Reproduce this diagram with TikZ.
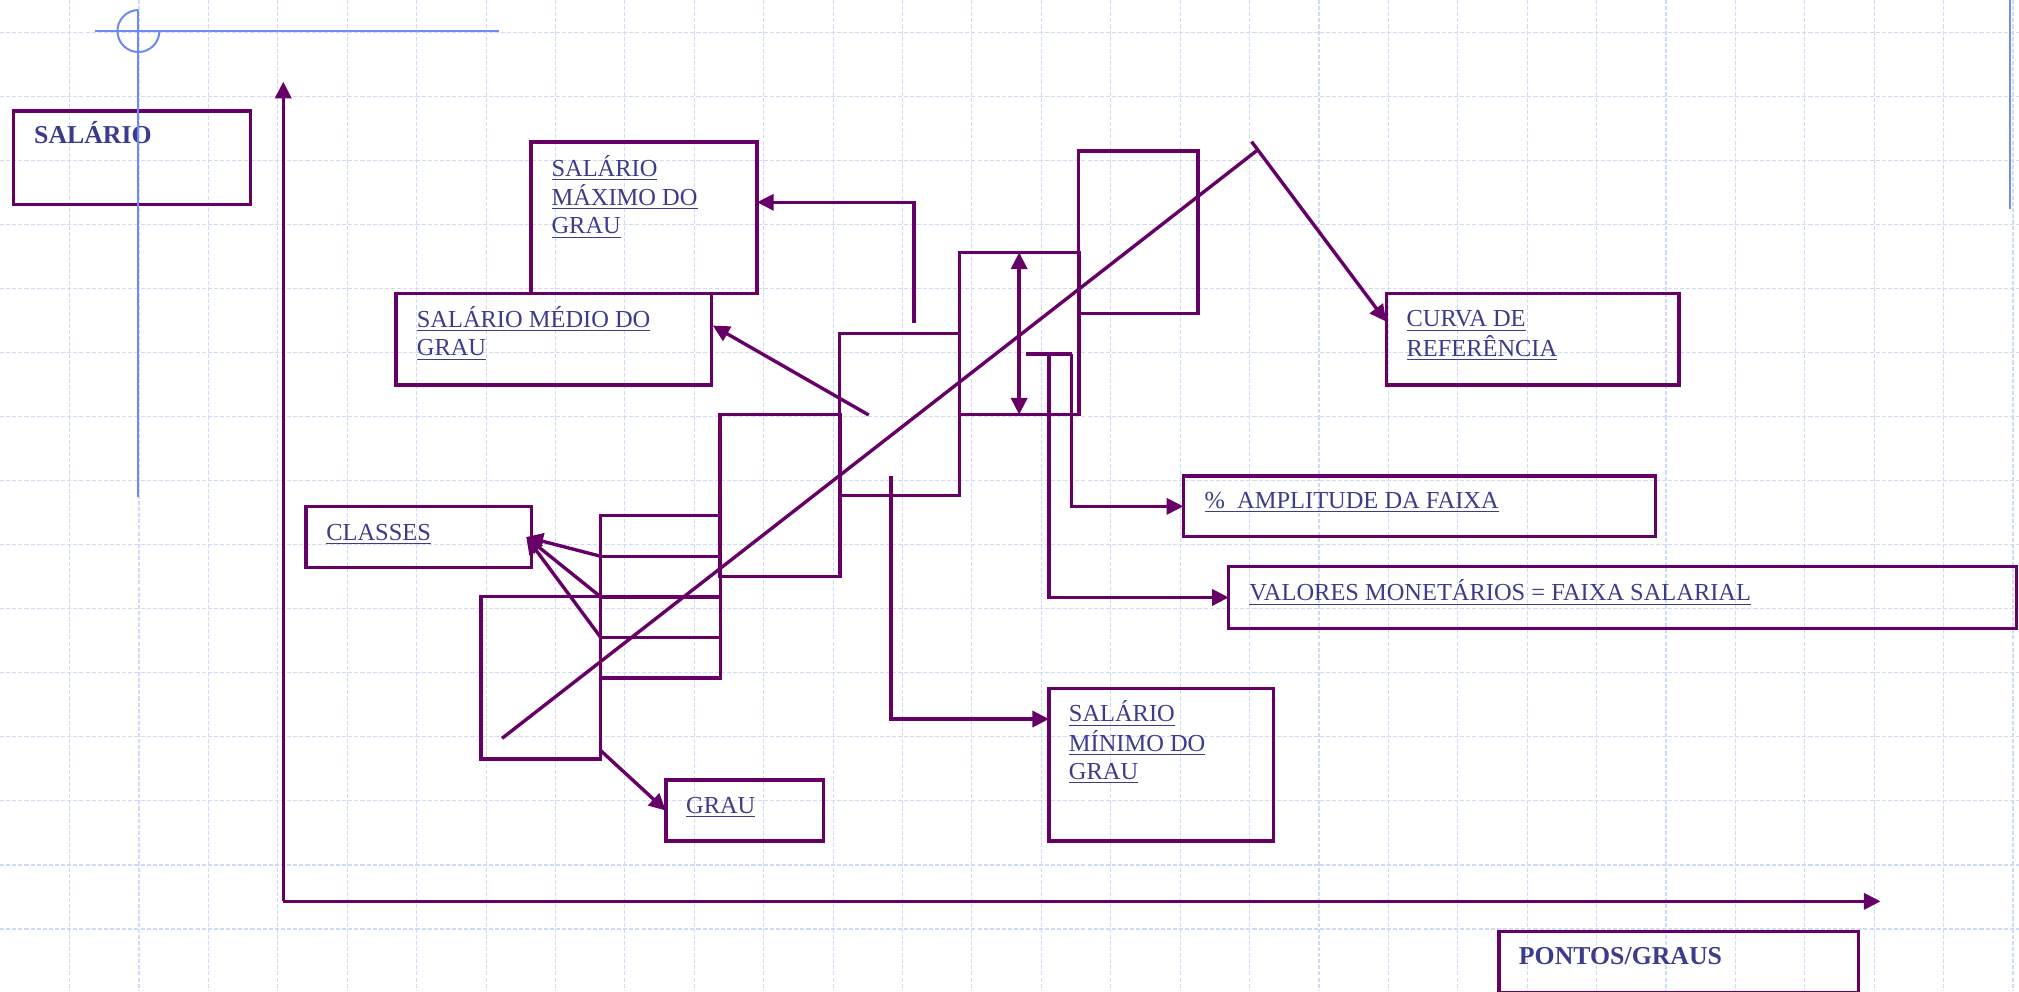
\documentclass[tikz,border=0pt]{standalone}
\usepackage{fontspec}
\setmainfont{Liberation Serif}
\usetikzlibrary{arrows.meta,calc}
\definecolor{plum}{RGB}{102,0,102}
\definecolor{inkblue}{RGB}{60,60,140}
\definecolor{guideblue}{RGB}{110,140,240}
\definecolor{gridblue}{RGB}{205,218,248}
\newcommand{\ulines}[1]{\begin{tabular}[t]{@{}l@{}}#1\end{tabular}}
\tikzset{
  box/.style={draw=plum, line width=1.5pt, inner sep=0pt, outer sep=0pt, anchor=north west},
  band/.style={box, minimum width=18.6mm, minimum height=25.2mm},
  lbl/.style={anchor=base west, inner sep=0pt, text=inkblue, font=\fontsize{10.8}{12.5}\selectfont},
  ttl/.style={lbl, font=\fontsize{11.4}{13}\selectfont\bfseries},
  ln/.style={draw=plum, line width=1.5pt},
  arr/.style={ln, ->},
  guide/.style={draw=guideblue, line width=0.9pt},
  gridln/.style={draw=gridblue, line width=0.5pt, dash pattern=on 1.8pt off 0.9pt}
}
\begin{document}
\begin{tikzpicture}[x=0.2mm, y=-0.2mm, >={Triangle[length=2.6mm,width=2.5mm]}]
  \fill[white] (0,0) rectangle (1568,770);
  \useasboundingbox (0,0) rectangle (1568,770);
  % background grid
  \foreach \gx in {0,...,28}
    \draw[gridln] ({54.1+53.9*\gx},0) -- ({54.1+53.9*\gx},770);
  \foreach \gy in {0,...,14}
    \draw[gridln] (0,{25+49.75*\gy}) -- (1568,{25+49.75*\gy});

  % label boxes
  \node[box, minimum width=36.86mm, minimum height=14.5mm] (salario) at (10.4,86.2) {};
  \node[box, minimum width=35.08mm, minimum height=23.5mm] (maxbox) at (412.5,110.3) {};
  \node[box, minimum width=48.98mm, minimum height=14.24mm] (medbox) at (307.6,227.8) {};
  \node[box, minimum width=35mm, minimum height=9.42mm] (classbox) at (237.7,393.5) {};
  \node[box, minimum width=24.48mm, minimum height=9.48mm] (graubox) at (517.1,605.8) {};
  \node[box, minimum width=34.88mm, minimum height=23.72mm] (minbox) at (814.7,534.6) {};
  \node[box, minimum width=73.34mm, minimum height=9.42mm] (ampbox) at (919,369.7) {};
  \node[box, minimum width=122.3mm, minimum height=9.6mm] (valbox) at (954.3,440) {};
  \node[box, minimum width=45.48mm, minimum height=14.24mm] (curvabox) at (1076.6,227.8) {};
  \node[box, minimum width=55.9mm, minimum height=9.42mm] (pontosbox) at (1164,723.6) {};

  % texts
  \node[ttl] (salariotxt) at ($(salario.north west)+(15.8,25.1)$) {SALÁRIO};
  \node[lbl] (maxtxt) at ($(maxbox.north west)+(15.5,26.4)$)
    {\ulines{\underline{SALÁRIO}\\\underline{MÁXIMO DO}\\\underline{GRAU}}};
  \node[lbl] (medtxt) at ($(medbox.north west)+(15.8,26.4)$)
    {\ulines{\underline{SALÁRIO MÉDIO DO}\\\underline{GRAU}}};
  \node[lbl] (classtxt) at ($(classbox.north west)+(15.4,25.9)$) {\underline{CLASSES}};
  \node[lbl] (grautxt) at ($(graubox.north west)+(15.4,25.9)$) {\underline{GRAU}};
  \node[lbl] (mintxt) at ($(minbox.north west)+(15.1,25.9)$)
    {\ulines{\underline{SALÁRIO}\\\underline{MÍNIMO DO}\\\underline{GRAU}}};
  \node[lbl] (amptxt) at ($(ampbox.north west)+(16.2,25.1)$) {\underline{\%\ \ AMPLITUDE DA FAIXA}};
  \node[lbl] (valtxt) at ($(valbox.north west)+(15.7,26.5)$) {\underline{VALORES MONETÁRIOS = FAIXA SALARIAL}};
  \node[lbl] (curvatxt) at ($(curvabox.north west)+(15.4,25.9)$)
    {\ulines{\underline{CURVA DE}\\\underline{REFERÊNCIA}}};
  \node[ttl] (pontostxt) at ($(pontosbox.north west)+(15.3,25.3)$) {PONTOS/GRAUS};

  % grade bands
  \node[band] (g1) at (373.5,463.4) {};
  \node[band] (g2) at (466.5,400.5) {};
  \node[band] (g3) at (559.2,321.8) {};
  \node[band] (g4) at (652,258.9) {};
  \node[band] (g5) at (745,196) {};
  \node[band] (g6) at (837.5,117.3) {};
  \foreach \f/\k in {0.25/1,0.5/2,0.75/3}
    \draw[ln] ($(g2.north west)!\f!(g2.south west)$) coordinate (cl\k)
      -- ($(g2.north east)!\f!(g2.south east)$);

  % axes
  \coordinate (orig) at (220,700);
  \coordinate (ytop) at (220,63.4);
  \coordinate (xend) at (1460.5,700);
  \draw[arr] (orig) -- (ytop);
  \draw[arr] (orig) -- (xend);

  % reference curve
  \coordinate (curvlow) at (389.9,573.4);
  \coordinate (curvhigh) at (976,117);
  \coordinate (curvptr) at (972,110);
  \draw[ln] (curvlow) -- (curvhigh);
  \draw[arr] (curvptr) -- ($(curvabox.north west)+(0,22)$);

  % pointers
  \coordinate (maxfoot) at (709.8,251.1);
  \coordinate (medfoot) at (674.7,322.3);
  \coordinate (minfoot) at (692,370);
  \draw[arr] (maxfoot) |- ($(maxbox.north east)+(0,46.8)$);
  \draw[arr] (medfoot) -- ($(medbox.north east)+(1,25)$);
  \draw[arr] (minfoot) |- ($(minbox.north west)+(0,23.8)$);
  \draw[ln, <->] (g5.north) -- (g5.south);
  \coordinate (brkl) at (797,275);
  \coordinate (brkm) at (814.7,275);
  \coordinate (brkr) at (832.2,275);
  \draw[ln] (brkl) -- (brkr);
  \draw[arr] (brkr) |- (ampbox.west);
  \draw[arr] (brkm) |- (valbox.west);
  \foreach \k in {1,2,3}
    \draw[arr] (cl\k) -- ($(classbox.east)+(-4,0)$);
  \draw[arr] ($(g1.south east)+(0,-6.5)$) -- (graubox.west);

  % slide guides
  \draw[guide] (73.4,24.1) -- (387.9,24.1);
  \draw[guide] (107.5,7.8) -- (107.5,386);
  \draw[guide] (107.5,7.8) arc[start angle=270, end angle=0, radius=16.3];
  \draw[guide] (1561,0) -- (1561,162);
\end{tikzpicture}
\end{document}
